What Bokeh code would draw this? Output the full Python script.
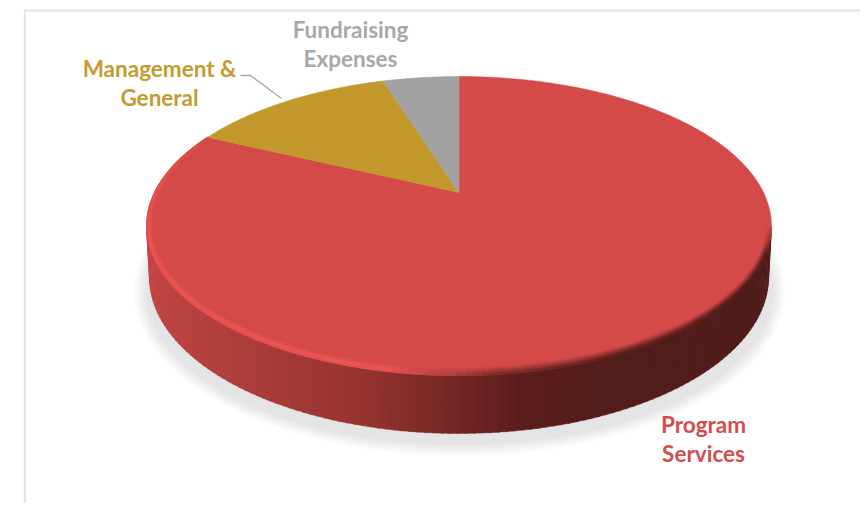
import numpy as np
from bokeh.plotting import figure
from bokeh.models import Range1d
from bokeh.core.properties import value
from bokeh.embed import file_html
from bokeh.resources import INLINE

# ---- data ----
categories = ["Program Services", "Management & General", "Fundraising Expenses"]
shares = [82.0, 13.1, 4.9]
slice_colors = ["#D34A48", "#C2982C", "#A2A2A2"]
label_lines = [["Program", "Services"], ["Management &", "General"], ["Fundraising", "Expenses"]]
label_colors = ["#D64C4C", "#C59A2E", "#A8A8A8"]

W, H = 860, 503
p = figure(width=W, height=H, output_backend="svg", toolbar_location=None,
           x_range=Range1d(0, W), y_range=Range1d(H, 0),
           min_border=0, outline_line_color=None, background_fill_color="white")
p.axis.visible = False
p.grid.visible = False

def hexmix(stops, s):
    xs = [a for a, _ in stops]
    rgb = np.array([[int(col[j:j + 2], 16) for j in (1, 3, 5)] for _, col in stops])
    v = [np.interp(s, xs, rgb[:, i]) for i in range(3)]
    return "#%02x%02x%02x" % tuple(int(round(x)) for x in v)

# frame
p.line([24.3, 24.3, W], [H, 10, 10], line_color="#E2E2E2", line_width=2)

# perspective model of the top face
CX, APEX_Y, R, A, C = 458.5, 192.0, 304.5, 142.0, 0.224
def project(theta):
    """theta clockwise from 12 o'clock"""
    d = 1 + C * np.cos(theta)
    return CX + R * np.sin(theta) / d, APEX_Y - A * np.cos(theta) / d

# outer ellipses
TX, TY, TRX, TRY = 458.5, 225.5, 312.5, 149.5
BX, BY, BRX, BRY = 458.5, 277.0, 309.5, 156.0

# soft shadow
phi_all = np.linspace(0, 2 * np.pi, 181)
for k in range(9):
    g = 14 - 1.6 * k
    p.patch(459 + (312 + g) * np.cos(phi_all), 291 + (152 + g * 0.9) * np.sin(phi_all),
            fill_color="#000000", fill_alpha=0.012, line_color=None)

# side wall
side_stops = [(0.0, "#C04444"), (0.18, "#AA3C39"), (0.36, "#92322F"), (0.48, "#762725"),
              (0.60, "#5A1D1B"), (0.72, "#521D1A"), (1.0, "#501C19")]
phis = np.linspace(0, np.pi, 121)
for a, b in zip(phis[:-1], phis[1:]):
    b2 = min(b + 0.006, np.pi)
    xs = [TX + TRX * np.cos(a), TX + TRX * np.cos(b2), BX + BRX * np.cos(b2), BX + BRX * np.cos(a)]
    ys = [TY + TRY * np.sin(a), TY + TRY * np.sin(b2), BY + BRY * np.sin(b2), BY + BRY * np.sin(a)]
    s = ((xs[0] + xs[1]) / 2 - (TX - TRX)) / (2 * TRX)
    c = hexmix(side_stops, s)
    p.patch(xs, ys, fill_color=c, line_color=c, line_width=0.4)

# slices, clockwise from 12 o'clock, from the values
total = sum(shares)
start = 0.0
for val, col in zip(shares, slice_colors):
    sweep = 2 * np.pi * val / total
    t = np.linspace(start, start + sweep, max(int(val * 5), 12))
    x, y = project(t)
    p.patch(np.r_[CX, x], np.r_[APEX_Y, y], fill_color=col, line_color=col, line_width=0.5)
    start += sweep

# bevelled rim on the red face
rim_stops = [(0.0, "#EE5454"), (0.38, "#EE5656"), (0.47, "#B84240"), (0.56, "#7C2A28"),
             (0.75, "#5C1F1C"), (1.0, "#541C1A")]
base = "#D34A48"
program_end = 2 * np.pi * shares[0] / total
xe, ye = project(program_end)
phi_end = np.arctan2((ye - TY) / TRY, (xe - TX) / TRX) % (2 * np.pi)
seg = np.linspace(0.02, phi_end, 141)
fr = [0.0, 0.15, 0.3, 0.45, 0.6, 0.75, 0.9, 1.05]
for f in reversed(fr):
    xss, yss, cols = [], [], []
    for a, b in zip(seg[:-1], seg[1:]):
        m = (a + b) / 2
        thick = 7.0 * np.clip(0.62 + 0.5 * np.sin(m), 0.05, 1.0) + 0.3
        r0 = thick * f + 0.4
        s = (TX + TRX * np.cos(m) - (TX - TRX)) / (2 * TRX)
        target = hexmix(rim_stops, s)
        w = 1 - abs(f - 0.3) / 0.75 if s < 0.45 else 1 - f
        w = float(np.clip(w, 0, 1))
        if np.sin(m) < 0:
            w *= max(0.0, 1 + np.sin(m) * 1.2)
        elif np.cos(m) > 0:
            w *= min(1.0, np.sin(m) * 5)
        rv = [int(target[i:i + 2], 16) for i in (1, 3, 5)]
        bv = [int(base[i:i + 2], 16) for i in (1, 3, 5)]
        mix = [round(bv[i] + (rv[i] - bv[i]) * w) for i in range(3)]
        cols.append("#%02x%02x%02x" % tuple(mix))
        xss.append([TX + (TRX - r0) * np.cos(a), TX + (TRX - r0) * np.cos(b)])
        yss.append([TY + (TRY - r0) * np.sin(a), TY + (TRY - r0) * np.sin(b)])
    p.multi_line(xss, yss, line_color=cols, line_width=1.7, line_cap="round")

# leader line
p.line([240, 250, 281], [75, 75, 98], line_color="#A8A8A8", line_width=1.3)

# labels
label_pos = [(703, [424, 453]), (159, [68, 97]), (350, [29, 58])]
for lines, col, (lx, lys) in zip(label_lines, label_colors, label_pos):
    p.text([lx] * len(lines), lys, text=lines, text_color=col,
           text_font=value("Lato"), text_font_size="22.5px", text_font_style="bold",
           text_align="center", text_baseline="middle")

open("out.html", "w").write(file_html(p, INLINE))
